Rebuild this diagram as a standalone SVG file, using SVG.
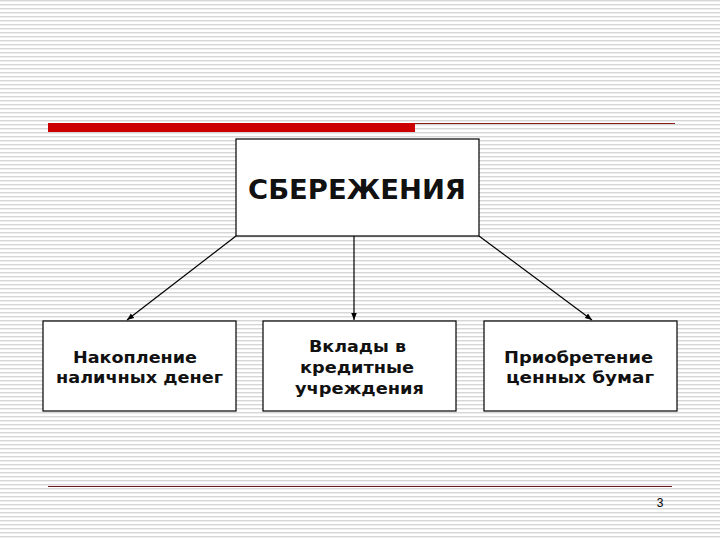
<svg xmlns="http://www.w3.org/2000/svg" width="720" height="540" viewBox="0 0 720 540">
<defs>
<pattern id="stripes" width="8" height="4" patternUnits="userSpaceOnUse">
<rect width="8" height="4" fill="#ffffff"/>
<rect y="0" width="8" height="1.4" fill="#d6d6d6"/>
</pattern>
<marker id="arr" viewBox="0 0 10 10" refX="10" refY="5" markerWidth="7" markerHeight="7" orient="auto" markerUnits="userSpaceOnUse">
<path d="M0,1 L10,5 L0,9 z" fill="#000"/>
</marker>
<style>
.box{fill:#fff;stroke:#000;stroke-width:1.2}
.lbl{font-family:"DejaVu Sans","Verdana",sans-serif;font-weight:bold;font-size:16px;fill:#111;text-anchor:middle}
.title{font-family:"DejaVu Sans","Verdana",sans-serif;font-weight:bold;font-size:26px;fill:#111;text-anchor:middle}
.conn{stroke:#000;stroke-width:1.2;fill:none;marker-end:url(#arr)}
</style>
</defs>
<rect width="720" height="540" fill="url(#stripes)"/>
<g id="decor">
<rect x="48" y="123" width="367" height="9" fill="#cc0000"/>
<line x1="415" y1="123.5" x2="675" y2="123.5" stroke="#8b1c1c" stroke-width="1"/>
<line x1="48" y1="486.5" x2="672" y2="486.5" stroke="#6b1a1a" stroke-width="1"/>
<text x="660" y="507" font-family="Liberation Sans, Arial, sans-serif" font-size="12" fill="#000" text-anchor="middle">3</text>
</g>
<g id="connectors">
<line class="conn" x1="236" y1="236" x2="127" y2="320"/>
<line class="conn" x1="354" y1="236" x2="354" y2="320"/>
<line class="conn" x1="479" y1="236" x2="592" y2="320"/>
</g>
<g id="node-savings">
<rect class="box" x="236" y="139" width="243" height="97"/>
<text class="title" x="357" y="199" textLength="218" lengthAdjust="spacingAndGlyphs">СБЕРЕЖЕНИЯ</text>
</g>
<g id="node-cash">
<rect class="box" x="43" y="321" width="193" height="90"/>
<text class="lbl" x="135" y="363" textLength="124" lengthAdjust="spacingAndGlyphs">Накопление</text>
<text class="lbl" x="139.5" y="383" textLength="167" lengthAdjust="spacingAndGlyphs">наличных денег</text>
</g>
<g id="node-deposits">
<rect class="box" x="263" y="321" width="193" height="90"/>
<text class="lbl" x="357.5" y="352" textLength="97" lengthAdjust="spacingAndGlyphs">Вклады в</text>
<text class="lbl" x="357" y="373" textLength="114" lengthAdjust="spacingAndGlyphs">кредитные</text>
<text class="lbl" x="359.5" y="394" textLength="129" lengthAdjust="spacingAndGlyphs">учреждения</text>
</g>
<g id="node-securities">
<rect class="box" x="484" y="321" width="193" height="90"/>
<text class="lbl" x="578.5" y="363" textLength="149" lengthAdjust="spacingAndGlyphs">Приобретение</text>
<text class="lbl" x="580" y="383" textLength="148" lengthAdjust="spacingAndGlyphs">ценных бумаг</text>
</g>
</svg>
